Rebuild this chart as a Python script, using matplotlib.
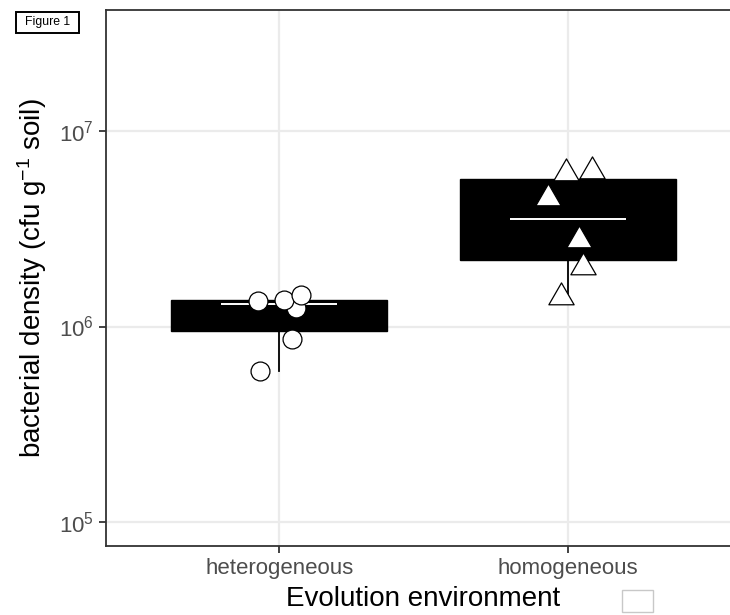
import numpy as np
import matplotlib
matplotlib.use("Agg")
import matplotlib.pyplot as plt
from matplotlib import cbook
from matplotlib.path import Path
from matplotlib.patches import Rectangle
from matplotlib.ticker import LogFormatterMathtext, NullLocator

plt.rcParams['font.family'] = ['Liberation Sans', 'DejaVu Sans']
plt.rcParams['mathtext.fontset'] = 'custom'
plt.rcParams['mathtext.rm'] = 'Liberation Sans'
plt.rcParams['mathtext.it'] = 'Liberation Sans:italic'
plt.rcParams['mathtext.bf'] = 'Liberation Sans:bold'

# ---- data ----
categories = ["heterogeneous", "homogeneous"]
het_values = [1.246e6, 1.358e6, 1.369e6, 1.457e6, 8.65e5, 5.96e5]
het_jitter = [0.059, -0.074, 0.017, 0.075, 0.046, -0.068]
hom_values = [6.115e6, 6.20e6, 4.53e6, 2.76e6, 2.01e6, 1.42e6]
hom_jitter = [-0.005, 0.083, -0.068, 0.039, 0.051, -0.024]
y_ticks = [1e5, 1e6, 1e7]
y_limits = [7.57e4, 4.16e7]

W, H = 730, 615
fig = plt.figure(figsize=(W / 100, H / 100), dpi=100)
ax = fig.add_axes([106 / W, (H - 546) / H, (741 - 106) / W, (546 - 9.5) / H])

positions = [1, 2]
ax.set_yscale('log')

# boxplots computed on log10 scale (as with a log10 y scale)
stats = []
for vals in (het_values, hom_values):
    s = cbook.boxplot_stats(np.log10(vals), whis=1.5)[0]
    for k in ('med', 'q1', 'q3', 'whislo', 'whishi', 'mean'):
        s[k] = 10 ** s[k]
    s['fliers'] = 10 ** np.asarray(s['fliers'])
    stats.append(s)

ax.bxp(stats, positions=positions, widths=0.75, patch_artist=True,
       showcaps=False, showfliers=False, manage_ticks=False,
       boxprops=dict(facecolor='black', edgecolor='black', linewidth=1.0),
       whiskerprops=dict(color='black', linewidth=1.3),
       medianprops=dict(color='black', linewidth=0),
       zorder=2)
for p, s in zip(positions, stats):
    ax.hlines(s['med'], p - 0.2, p + 0.2, colors='white', linewidth=1.4, zorder=3)

# points
tri = Path([(0, 1), (-0.866, -0.5), (0.866, -0.5), (0, 1)],
           [Path.MOVETO, Path.LINETO, Path.LINETO, Path.CLOSEPOLY])
ax.plot(np.array(het_jitter) + positions[0], het_values, linestyle='none',
        marker='o', markersize=13.6, markerfacecolor='white',
        markeredgecolor='black', markeredgewidth=0.9, zorder=4)
for xj, v in zip(hom_jitter, hom_values):
    ax.plot([positions[1] + xj], [v], linestyle='none',
            marker=tri, markersize=21, markerfacecolor='white',
            markeredgecolor='black', markeredgewidth=0.9, zorder=4)

# scales and grid
ax.set_xlim(0.4, 2.6)
ax.set_ylim(*y_limits)
ax.set_xticks(positions)
ax.set_xticklabels(categories)
ax.set_yticks(y_ticks)
ax.yaxis.set_minor_locator(NullLocator())
ax.yaxis.set_major_formatter(LogFormatterMathtext())
ax.set_axisbelow(True)
ax.grid(True, which='major', color='#EBEBEB', linewidth=1.6)

# axes styling
for sp in ax.spines.values():
    sp.set_color('#333333')
    sp.set_linewidth(1.3)
ax.tick_params(axis='both', which='major', length=4.8, width=1.3,
               color='#333333', labelcolor='#4D4D4D', labelsize=16)
ax.tick_params(axis='x', pad=3.5)
ax.tick_params(axis='y', pad=4)

ax.set_ylabel('bacterial density (cfu g$^{-1}$ soil)', fontsize=20, color='black')
ax.yaxis.set_label_coords(-0.09, 0.5)
ax.set_xlabel('Evolution environment', fontsize=20, color='black')
ax.xaxis.set_label_coords(0.5, -0.075)

# decorations
fig.add_artist(Rectangle((622 / W, (H - 612) / H), 31 / W, 22 / H,
                         transform=fig.transFigure, facecolor='white',
                         edgecolor='#C8C8C8', linewidth=1.0))
fig.add_artist(Rectangle((16 / W, (H - 33) / H), 63 / W, 21 / H,
                         transform=fig.transFigure, facecolor='white',
                         edgecolor='black', linewidth=1.4))
fig.text(47.5 / W, 1 - 22.5 / H, 'Figure 1', ha='center', va='center',
         fontsize=8.8, color='black')

fig.savefig('out.png', dpi=100)
